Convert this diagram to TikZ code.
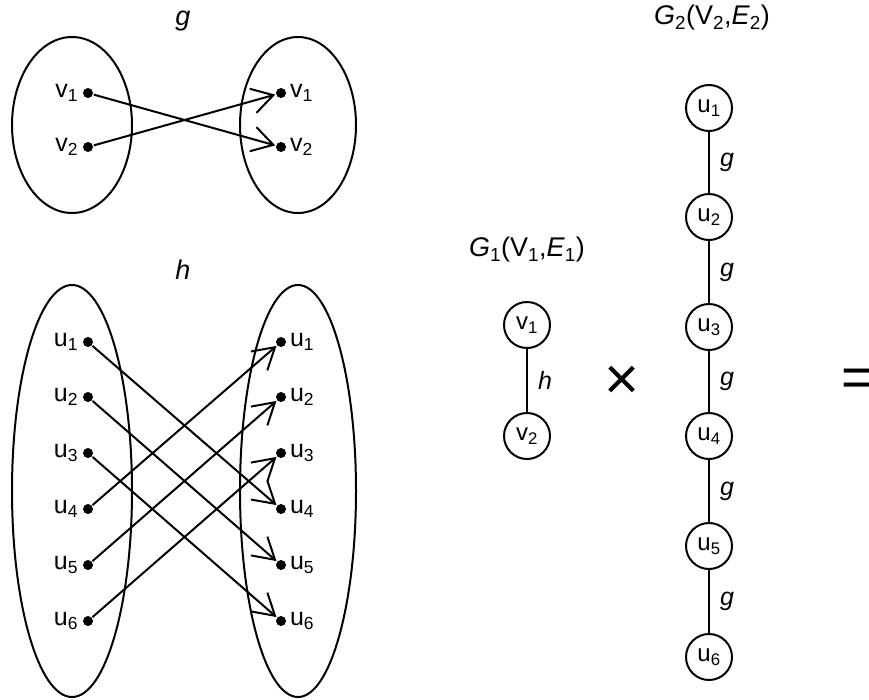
\documentclass[tikz,border=0pt]{standalone}
\usepackage{fontspec}
\setmainfont{Liberation Sans}
\usetikzlibrary{arrows.meta}
\begin{document}
\begin{tikzpicture}[x=1pt,y=-1pt,line width=2pt,
  txt/.style={font=\fontsize{25}{27}\selectfont, inner sep=0pt},
  title/.style={font=\fontsize{27}{29}\selectfont, inner sep=0pt},
  dot/.style={circle, fill, inner sep=0pt, minimum size=10pt},
  vert/.style={circle, draw, minimum size=46pt, inner sep=0pt, font=\fontsize{24}{26}\selectfont},
  map/.style={-{Straight Barb[length=21pt,width=25pt]}},
  elabel/.style={font=\fontsize{25}{27}\selectfont\itshape, inner sep=0pt}
]
\useasboundingbox (0,0) rectangle (869,699);

% ---- mapping g ----
\node[title] (gt) at (183,21) {\textit{g}};
\draw (72,125) ellipse [x radius=60, y radius=88];
\draw (298,125) ellipse [x radius=58, y radius=88];
\foreach \i/\y in {1/93,2/147}{
  \node[dot] (gl\i) at (88,\y) {};
  \node[txt, anchor=east] at (79,\y) {v\textsubscript{\i}};
  \node[dot] (gr\i) at (281,\y) {};
  \node[txt, anchor=west] at (289,\y) {v\textsubscript{\i}};
}
\draw[map] (gl1) -- (gr2);
\draw[map] (gl2) -- (gr1);

% ---- mapping h ----
\node[title] (ht) at (183,270) {\textit{h}};
\draw (72,491) ellipse [x radius=60, y radius=206];
\draw (298,491) ellipse [x radius=58, y radius=206];
\foreach \i/\y in {1/342,2/397,3/453,4/509,5/565,6/621}{
  \node[dot] (hl\i) at (88,\y) {};
  \node[txt, anchor=east] at (79,\y) {u\textsubscript{\i}};
  \node[dot] (hr\i) at (281,\y) {};
  \node[txt, anchor=west] at (289,\y) {u\textsubscript{\i}};
}
\foreach \a/\b in {1/4,2/5,3/6,4/1,5/2,6/3}
  \draw[map] (hl\a) -- (hr\b);

% ---- graph G1 ----
\node[title] (g1t) at (527,250) {\textit{G}\textsubscript{1}(V\textsubscript{1},\textit{E}\textsubscript{1})};
\node[vert] (v1) at (527,325) {v\textsubscript{1}};
\node[vert] (v2) at (527,436) {v\textsubscript{2}};
\draw (v1) -- node[elabel, right=10pt] {h} (v2);

% ---- product sign ----
\node[inner sep=0pt, font=\fontsize{60}{62}\selectfont] (times) at (622,383) {×};

% ---- graph G2 ----
\node[title] (g2t) at (712,18) {\textit{G}\textsubscript{2}(V\textsubscript{2},\textit{E}\textsubscript{2})};
\foreach \i/\y in {1/108,2/217,3/327,4/436,5/546,6/657}
  \node[vert] (u\i) at (709,\y) {u\textsubscript{\i}};
\foreach \a/\b in {1/2,2/3,3/4,4/5,5/6}
  \draw (u\a) -- node[elabel, right=10pt] {g} (u\b);

% ---- equals sign ----
\node[inner sep=0pt, font=\fontsize{56}{58}\selectfont] (eq) at (858,383) {=};
\end{tikzpicture}
\end{document}
